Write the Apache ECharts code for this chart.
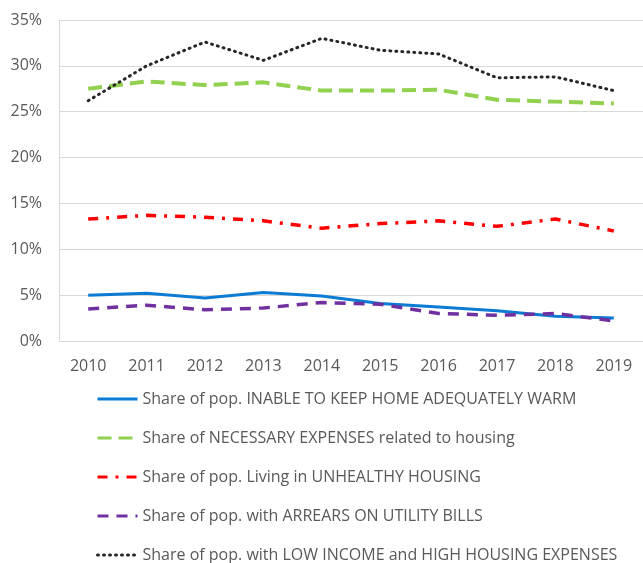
<!DOCTYPE html>
<html>
<head>
<meta charset="utf-8">
<script src="https://cdn.jsdelivr.net/npm/echarts@6/dist/echarts.min.js"></script>
<style>
  html, body { margin: 0; padding: 0; background: #fff; }
  #chart_content { width: 643px; height: 563px; }
</style>
</head>
<body>
<div id="chart_content"></div>
<script>
// categories and series (percent)
const years = ['2010', '2011', '2012', '2013', '2014', '2015', '2016', '2017', '2018', '2019'];
const warmData = [5.0, 5.2, 4.7, 5.3, 4.9, 4.1, 3.7, 3.3, 2.7, 2.5];
const expensesData = [27.5, 28.3, 27.9, 28.2, 27.3, 27.3, 27.4, 26.3, 26.1, 25.9];
const unhealthyData = [13.3, 13.7, 13.5, 13.1, 12.3, 12.8, 13.1, 12.5, 13.3, 12.0];
const arrearsData = [3.5, 3.9, 3.4, 3.6, 4.2, 4.0, 3.0, 2.8, 3.0, 2.2];
const lowIncomeData = [26.2, 30.0, 32.6, 30.6, 33.0, 31.7, 31.3, 28.7, 28.8, 27.3];
const seriesNames = [
    'Share of pop. INABLE TO KEEP HOME ADEQUATELY WARM',
    'Share of NECESSARY EXPENSES related to housing',
    'Share of pop. Living in UNHEALTHY HOUSING',
    'Share of pop. with ARREARS ON UTILITY BILLS',
    'Share of pop. with LOW INCOME and HIGH HOUSING EXPENSES'
];
const yTicks = [0, 5, 10, 15, 20, 25, 30, 35];

const fontFamily = 'Open Sans, Liberation Sans, sans-serif';
const textColor = '#595959';

function makeLine(name, data, color, width, dash, cap) {
    return {
        name: name,
        type: 'line',
        data: data,
        symbol: 'none',
        smooth: false,
        lineStyle: {
            color: color,
            width: width,
            type: dash,
            cap: cap || 'butt'
        },
        itemStyle: { color: color }
    };
}

let chart = echarts.init(document.getElementById('chart_content'));
chart.setOption({
    animation: false,
    grid: {
        left: 59,
        right: 0,
        top: 20,
        bottom: 222
    },
    xAxis: {
        type: 'category',
        data: years,
        boundaryGap: true,
        axisLine: { show: false },
        axisTick: { show: false },
        axisLabel: {
            color: textColor,
            fontSize: 16,
            fontFamily: fontFamily,
            margin: 17
        }
    },
    yAxis: {
        type: 'value',
        min: yTicks[0],
        max: yTicks[yTicks.length - 1],
        interval: 5,
        axisLine: { show: true, lineStyle: { color: '#d9d9d9', width: 1 } },
        axisTick: { show: false },
        splitLine: { lineStyle: { color: '#d9d9d9', width: 1 } },
        axisLabel: {
            color: textColor,
            fontSize: 16,
            fontFamily: fontFamily,
            margin: 17,
            formatter: '{value}%'
        }
    },
    legend: {
        orient: 'vertical',
        left: 96,
        top: 391,
        bottom: 0,
        padding: 0,
        itemWidth: 40,
        itemHeight: 14,
        itemGap: 23,
        itemStyle: { opacity: 0 },
        lineStyle: { width: 3 },
        textStyle: {
            color: textColor,
            fontSize: 16,
            fontFamily: fontFamily
        },
        data: seriesNames
    },
    series: [
        makeLine(seriesNames[0], warmData, '#0B7BD4', 3, 'solid'),
        makeLine(seriesNames[1], expensesData, '#92D050', 4, [14, 7]),
        makeLine(seriesNames[2], unhealthyData, '#FF0000', 3.5, [10, 8, 3, 8]),
        makeLine(seriesNames[3], arrearsData, '#7030A0', 3.5, [11, 8]),
        makeLine(seriesNames[4], lowIncomeData, '#262626', 3, [1, 5], 'round')
    ]
});
</script>
</body>
</html>
